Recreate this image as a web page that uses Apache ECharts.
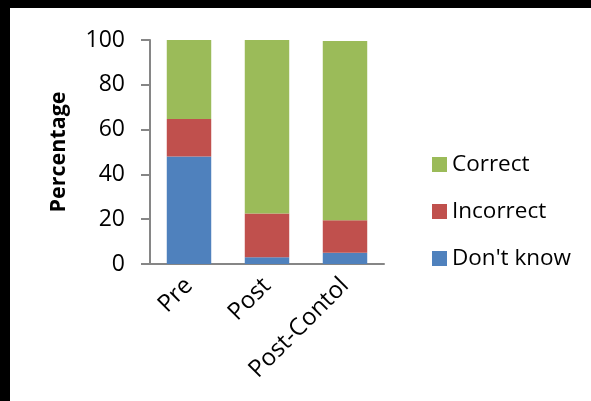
<!DOCTYPE html>
<html>
<head>
<meta charset="utf-8">
<script src="https://cdn.jsdelivr.net/npm/echarts@6/dist/echarts.min.js"></script>
<style>
html,body{margin:0;padding:0;background:#fff;}
#chart{width:591px;height:401px;}
</style>
</head>
<body>
<div id="chart"></div>
<script>
const categories = ['Pre', 'Post', 'Post-Contol'];
const dontKnow = [48, 3, 5];
const incorrect = [16.7, 19.5, 14.5];
const correct = [35.3, 77.5, 80];
const yTicks = { min: 0, max: 100, interval: 20 };

const font = '"Open Sans", "Liberation Sans", sans-serif';
const axisGray = '#868686';

const chart = echarts.init(document.getElementById('chart'), null, { renderer: 'canvas' });
chart.setOption({
  animation: false,
  backgroundColor: '#ffffff',
  graphic: [
    { type: 'rect', left: 0, top: 0, shape: { width: 591, height: 8 }, style: { fill: '#000' } },
    { type: 'rect', left: 0, top: 0, shape: { width: 10, height: 401 }, style: { fill: '#000' } }
  ],
  grid: { left: 150, right: 207, top: 40, bottom: 137, containLabel: false },
  legend: {
    orient: 'vertical',
    left: 427,
    top: 148,
    itemWidth: 15,
    itemHeight: 15,
    itemGap: 24,
    icon: 'rect',
    data: ['Correct', 'Incorrect', "Don't know"],
    textStyle: { fontFamily: font, fontSize: 22.5, color: '#000', padding: [0, 0, 0, 0] }
  },
  xAxis: {
    type: 'category',
    data: categories,
    axisLine: { show: true, lineStyle: { color: axisGray, width: 2 } },
    axisTick: { show: false },
    axisLabel: { rotate: 45, margin: 18, fontFamily: font, fontSize: 24, color: '#000' }
  },
  yAxis: {
    type: 'value',
    min: yTicks.min,
    max: yTicks.max,
    interval: yTicks.interval,
    name: 'Percentage',
    nameLocation: 'middle',
    nameRotate: 90,
    nameGap: 80,
    nameTextStyle: { fontFamily: font, fontSize: 21.5, fontWeight: 'bold', color: '#000' },
    axisLine: { show: true, lineStyle: { color: axisGray, width: 2 } },
    axisTick: { show: true, inside: false, length: 9, lineStyle: { color: axisGray, width: 2 } },
    splitLine: { show: false },
    axisLabel: { margin: 25, fontFamily: font, fontSize: 23, color: '#000' }
  },
  series: [
    { name: "Don't know", type: 'bar', stack: 'total', data: dontKnow, barWidth: '57%',
      itemStyle: { color: '#4F81BD' } },
    { name: 'Incorrect', type: 'bar', stack: 'total', data: incorrect, barWidth: '57%',
      itemStyle: { color: '#C0504D' } },
    { name: 'Correct', type: 'bar', stack: 'total', data: correct, barWidth: '57%',
      itemStyle: { color: '#9BBB59' } }
  ]
});
</script>
</body>
</html>
